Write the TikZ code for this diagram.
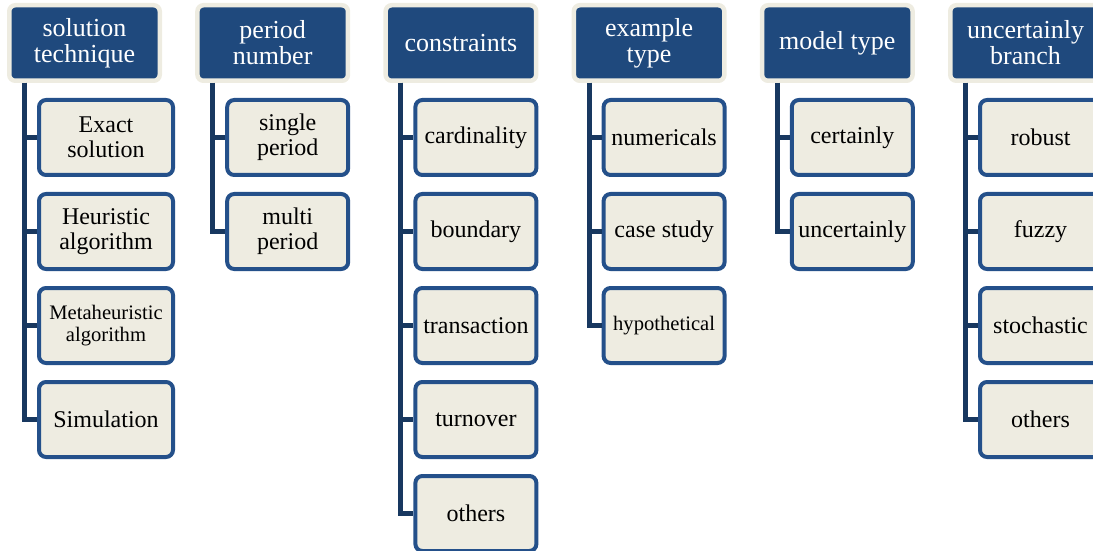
\documentclass[tikz,border=0pt]{standalone}
\usepackage{fontspec}
\setmainfont{Liberation Serif}
\usetikzlibrary{positioning}
\definecolor{headblue}{RGB}{31,73,125}
\definecolor{paper}{RGB}{238,236,225}
\definecolor{frameblue}{RGB}{36,80,138}
\definecolor{navy}{RGB}{24,56,96}

\begin{document}
\begin{tikzpicture}[
    node distance=7.5pt and 16.6pt,
    headbox/.style={draw=paper, line width=2.25pt, fill=headblue, rounded corners=3pt, minimum width=75.25pt, minimum height=37.75pt, inner sep=1pt, align=center, text=white, font=\fontsize{13pt}{13pt}\selectfont},
    leafbox/.style={draw=frameblue, line width=2pt, fill=paper, rounded corners=3.5pt, minimum width=60.5pt, minimum height=37.5pt, inner sep=1pt, align=center, font=\fontsize{12pt}{12.5pt}\selectfont},
    wide/.style={minimum width=67pt},
    small/.style={font=\fontsize{10.3pt}{11pt}\selectfont},
    link/.style={draw=navy, line width=2.5pt}
]
\useasboundingbox (0,0) rectangle (546.5pt,-275.5pt);

% category headers
\node[headbox] (tech) at (42.25pt,-21.5pt) {solution\\technique};
\node[headbox, right=of tech] (period) {period\\number};
\node[headbox, right=of period] (cons) {constraints};
\node[headbox, right=of cons] (example) {example\\type};
\node[headbox, right=of example] (model) {model type};
\node[headbox, right=of model] (branch) {uncertainly\\branch};

% solution technique
\node[leafbox, wide, below right=7.5pt and 15pt of tech.south west] (exact) {Exact\\solution};
\node[leafbox, wide, below=of exact] (heur) {Heuristic\\algorithm};
\node[leafbox, wide, small, below=of heur] (meta) {Metaheuristic\\algorithm};
\node[leafbox, wide, below=of meta] (sim) {Simulation};

% period number
\node[leafbox, below right=7.5pt and 15pt of period.south west] (single) {single\\period};
\node[leafbox, below=of single] (multi) {multi\\period};

% constraints
\node[leafbox, below right=7.5pt and 15pt of cons.south west] (card) {cardinality};
\node[leafbox, below=of card] (bound) {boundary};
\node[leafbox, below=of bound] (trans) {transaction};
\node[leafbox, below=of trans] (turn) {turnover};
\node[leafbox, below=of turn] (consother) {others};

% example type
\node[leafbox, below right=7.5pt and 15pt of example.south west] (num) {numericals};
\node[leafbox, below=of num] (case) {case study};
\node[leafbox, small, below=of case] (hypo) {hypothetical};

% model type
\node[leafbox, below right=7.5pt and 15pt of model.south west] (cert) {certainly};
\node[leafbox, below=of cert] (uncert) {uncertainly};

% uncertainly branch
\node[leafbox, below right=7.5pt and 15pt of branch.south west] (robust) {robust};
\node[leafbox, below=of robust] (fuzzy) {fuzzy};
\node[leafbox, below=of fuzzy] (stoch) {stochastic};
\node[leafbox, below=of stoch] (branchother) {others};

\draw[link] ([xshift=8.75pt]tech.south west) |- (exact);
\draw[link] ([xshift=8.75pt]tech.south west) |- (heur);
\draw[link] ([xshift=8.75pt]tech.south west) |- (meta);
\draw[link] ([xshift=8.75pt]tech.south west) |- (sim);

\draw[link] ([xshift=8.75pt]period.south west) |- (single);
\draw[link] ([xshift=8.75pt]period.south west) |- (multi);

\draw[link] ([xshift=8.75pt]cons.south west) |- (card);
\draw[link] ([xshift=8.75pt]cons.south west) |- (bound);
\draw[link] ([xshift=8.75pt]cons.south west) |- (trans);
\draw[link] ([xshift=8.75pt]cons.south west) |- (turn);
\draw[link] ([xshift=8.75pt]cons.south west) |- (consother);

\draw[link] ([xshift=8.75pt]example.south west) |- (num);
\draw[link] ([xshift=8.75pt]example.south west) |- (case);
\draw[link] ([xshift=8.75pt]example.south west) |- (hypo);

\draw[link] ([xshift=8.75pt]model.south west) |- (cert);
\draw[link] ([xshift=8.75pt]model.south west) |- (uncert);

\draw[link] ([xshift=8.75pt]branch.south west) |- (robust);
\draw[link] ([xshift=8.75pt]branch.south west) |- (fuzzy);
\draw[link] ([xshift=8.75pt]branch.south west) |- (stoch);
\draw[link] ([xshift=8.75pt]branch.south west) |- (branchother);

\end{tikzpicture}
\end{document}
